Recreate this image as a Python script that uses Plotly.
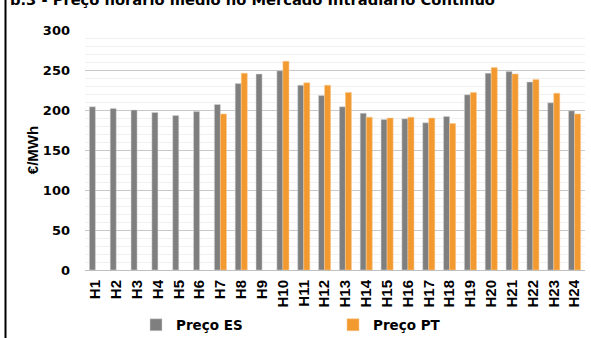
import plotly.graph_objects as go

hours = [f"H{i}" for i in range(1, 25)]
preco_es = [204, 202, 200, 197, 193, 198, 207, 233, 245, 249, 231, 218,
            204, 196, 188, 189, 184, 192, 219, 246, 248, 235, 209, 199]
preco_pt = [None, None, None, None, None, None, 195, 246, None, 261, 234, 231,
            222, 191, 190, 191, 190, 183, 222, 253, 245, 238, 221, 195]
y_ticks = [0, 50, 100, 150, 200, 250, 300]

WIDE = "DejaVu Sans, sans-serif"
ARIAL = "Arial, Liberation Sans, sans-serif"

fig = go.Figure()
fig.add_trace(go.Bar(x=hours, y=preco_es, name="Preço ES",
                     marker=dict(color="#7f7f7f", line=dict(color="#d9d9d9", width=0.5))))
fig.add_trace(go.Bar(x=hours, y=preco_pt, name="Preço PT",
                     marker=dict(color="#f29a30", line=dict(color="#f8c890", width=0.5))))

fig.update_layout(
    width=591, height=338,
    margin=dict(l=85, r=6, t=30, b=68, autoexpand=False),
    paper_bgcolor="white", plot_bgcolor="white",
    barmode="group", bargap=0.42, bargroupgap=0.0,
    font=dict(family=ARIAL, color="#000000"),
    showlegend=True,
    legend=dict(orientation="h", x=0.102, xanchor="left", y=-55/240, yanchor="middle",
                font=dict(size=13.5, family=WIDE, weight="bold"),
                entrywidth=152, entrywidthmode="pixels",
                itemwidth=30, traceorder="normal"),
    xaxis=dict(tickangle=-90, tickfont=dict(size=15, family=ARIAL, weight="bold"),
               ticklabelstandoff=3,
               showline=True, linecolor="#bfbfbf", linewidth=1,
               ticks="", showgrid=False, automargin=False),
    yaxis=dict(range=[0, 300], tickvals=y_ticks, showgrid=True,
               gridcolor="#c8c8c8", gridwidth=1,
               minor=dict(dtick=10, showgrid=True, gridcolor="#f0f0f0", gridwidth=1),
               tickfont=dict(size=13, family=WIDE, weight="bold"),
               ticklabelstandoff=14, zeroline=False, automargin=False,
               title=dict(text="€/MWh", font=dict(size=15, family=ARIAL, weight="bold"),
                          standoff=0)),
    shapes=[dict(type="line", xref="paper", yref="paper",
                 x0=-79.5/500, x1=-79.5/500, y0=-0.3, y1=1.2,
                 line=dict(color="black", width=2))],
    annotations=[dict(text="b.3 - Preço horário médio no Mercado Intradiário Contínuo",
                      xref="paper", yref="paper", x=-77/500, xanchor="left",
                      y=1 + 31/240, yanchor="middle", showarrow=False,
                      font=dict(size=14.7, family=WIDE, weight="bold"))],
)

fig.write_html("out.html", config={"displayModeBar": False},
               post_script="document.body.style.margin='0';document.body.style.overflow='hidden';")
